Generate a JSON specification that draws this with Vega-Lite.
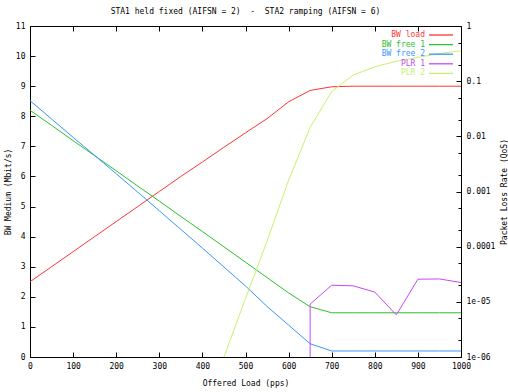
{
  "$schema": "https://vega.github.io/schema/vega-lite/v6.json",
  "width": 431,
  "height": 331,
  "autosize": {"type": "none"},
  "padding": {"left": 30, "top": 26, "right": 47, "bottom": 35},
  "background": "#ffffff",
  "title": {"text": "STA1 held fixed (AIFSN = 2)\u00a0\u00a0-\u00a0\u00a0STA2 ramping (AIFSN = 6)", "font": "DejaVu Sans Mono", "fontSize": 8, "fontWeight": "normal", "color": "#000000", "offset": 6},
  "config": {
    "view": {"stroke": "#000000", "strokeWidth": 1},
    "font": "DejaVu Sans Mono",
    "axis": {"labelFont": "DejaVu Sans Mono", "labelFontSize": 8, "titleFont": "DejaVu Sans Mono", "titleFontSize": 8, "titleFontWeight": "normal", "labelColor": "#000000", "titleColor": "#000000", "tickColor": "#000000", "domain": false, "grid": false}
  },
  "datasets": {
    "bw": [
      {"x": 0, "series": "BW load", "bw": 2.5}, {"x": 50, "series": "BW load", "bw": 3.0}, {"x": 100, "series": "BW load", "bw": 3.5}, {"x": 150, "series": "BW load", "bw": 4.0}, {"x": 200, "series": "BW load", "bw": 4.5}, {"x": 250, "series": "BW load", "bw": 5.0}, {"x": 300, "series": "BW load", "bw": 5.5}, {"x": 350, "series": "BW load", "bw": 6.0}, {"x": 400, "series": "BW load", "bw": 6.48}, {"x": 450, "series": "BW load", "bw": 6.97}, {"x": 500, "series": "BW load", "bw": 7.45}, {"x": 550, "series": "BW load", "bw": 7.92}, {"x": 600, "series": "BW load", "bw": 8.48}, {"x": 650, "series": "BW load", "bw": 8.86}, {"x": 700, "series": "BW load", "bw": 8.98}, {"x": 750, "series": "BW load", "bw": 9.0}, {"x": 800, "series": "BW load", "bw": 9.0}, {"x": 850, "series": "BW load", "bw": 9.0}, {"x": 900, "series": "BW load", "bw": 9.0}, {"x": 950, "series": "BW load", "bw": 9.0}, {"x": 1000, "series": "BW load", "bw": 9.0},
      {"x": 0, "series": "BW free 1", "bw": 8.2}, {"x": 50, "series": "BW free 1", "bw": 7.7}, {"x": 100, "series": "BW free 1", "bw": 7.19}, {"x": 150, "series": "BW free 1", "bw": 6.69}, {"x": 200, "series": "BW free 1", "bw": 6.19}, {"x": 250, "series": "BW free 1", "bw": 5.68}, {"x": 300, "series": "BW free 1", "bw": 5.18}, {"x": 350, "series": "BW free 1", "bw": 4.67}, {"x": 400, "series": "BW free 1", "bw": 4.17}, {"x": 450, "series": "BW free 1", "bw": 3.66}, {"x": 500, "series": "BW free 1", "bw": 3.15}, {"x": 550, "series": "BW free 1", "bw": 2.64}, {"x": 600, "series": "BW free 1", "bw": 2.13}, {"x": 650, "series": "BW free 1", "bw": 1.67}, {"x": 700, "series": "BW free 1", "bw": 1.47}, {"x": 750, "series": "BW free 1", "bw": 1.47}, {"x": 800, "series": "BW free 1", "bw": 1.47}, {"x": 850, "series": "BW free 1", "bw": 1.47}, {"x": 900, "series": "BW free 1", "bw": 1.47}, {"x": 950, "series": "BW free 1", "bw": 1.47}, {"x": 1000, "series": "BW free 1", "bw": 1.47},
      {"x": 0, "series": "BW free 2", "bw": 8.52}, {"x": 50, "series": "BW free 2", "bw": 7.91}, {"x": 100, "series": "BW free 2", "bw": 7.3}, {"x": 150, "series": "BW free 2", "bw": 6.7}, {"x": 200, "series": "BW free 2", "bw": 6.09}, {"x": 250, "series": "BW free 2", "bw": 5.48}, {"x": 300, "series": "BW free 2", "bw": 4.86}, {"x": 350, "series": "BW free 2", "bw": 4.24}, {"x": 400, "series": "BW free 2", "bw": 3.62}, {"x": 450, "series": "BW free 2", "bw": 2.99}, {"x": 500, "series": "BW free 2", "bw": 2.36}, {"x": 550, "series": "BW free 2", "bw": 1.68}, {"x": 600, "series": "BW free 2", "bw": 1.06}, {"x": 650, "series": "BW free 2", "bw": 0.44}, {"x": 700, "series": "BW free 2", "bw": 0.2}, {"x": 750, "series": "BW free 2", "bw": 0.2}, {"x": 800, "series": "BW free 2", "bw": 0.2}, {"x": 850, "series": "BW free 2", "bw": 0.2}, {"x": 900, "series": "BW free 2", "bw": 0.2}, {"x": 950, "series": "BW free 2", "bw": 0.2}, {"x": 1000, "series": "BW free 2", "bw": 0.2}
    ],
    "plr": [
      {"i": 1, "x": 650, "series": "PLR 1", "plr": 1e-6}, {"i": 2, "x": 650, "series": "PLR 1", "plr": 9.1e-6}, {"i": 3, "x": 700, "series": "PLR 1", "plr": 2.0e-5}, {"i": 4, "x": 750, "series": "PLR 1", "plr": 1.95e-5}, {"i": 5, "x": 800, "series": "PLR 1", "plr": 1.5e-5}, {"i": 6, "x": 850, "series": "PLR 1", "plr": 5.8e-6}, {"i": 7, "x": 900, "series": "PLR 1", "plr": 2.57e-5}, {"i": 8, "x": 950, "series": "PLR 1", "plr": 2.6e-5}, {"i": 9, "x": 1000, "series": "PLR 1", "plr": 2.24e-5},
      {"i": 10, "x": 450, "series": "PLR 2", "plr": 1e-6}, {"i": 11, "x": 500, "series": "PLR 2", "plr": 1.15e-5}, {"i": 12, "x": 550, "series": "PLR 2", "plr": 1.26e-4}, {"i": 13, "x": 600, "series": "PLR 2", "plr": 1.6e-3}, {"i": 14, "x": 650, "series": "PLR 2", "plr": 0.0145}, {"i": 15, "x": 700, "series": "PLR 2", "plr": 0.065}, {"i": 16, "x": 750, "series": "PLR 2", "plr": 0.129}, {"i": 17, "x": 800, "series": "PLR 2", "plr": 0.182}, {"i": 18, "x": 850, "series": "PLR 2", "plr": 0.23}, {"i": 19, "x": 900, "series": "PLR 2", "plr": 0.27}, {"i": 20, "x": 950, "series": "PLR 2", "plr": 0.316}, {"i": 21, "x": 1000, "series": "PLR 2", "plr": 0.355}
    ]
  },
  "layer": [
    {
      "data": {"name": "bw"},
      "mark": {"type": "line", "strokeWidth": 1},
      "encoding": {
        "x": {"field": "x", "type": "quantitative", "scale": {"domain": [0, 1000], "nice": false},
          "axis": {"orient": "bottom", "values": [0, 100, 200, 300, 400, 500, 600, 700, 800, 900, 1000], "format": "d", "tickSize": -5, "labelPadding": 10, "labelFlush": false, "labelOverlap": false, "title": "Offered Load (pps)", "titlePadding": 9}},
        "y": {"field": "bw", "type": "quantitative", "scale": {"domain": [0, 11], "nice": false},
          "axis": {"orient": "left", "values": [0, 1, 2, 3, 4, 5, 6, 7, 8, 9, 10, 11], "tickSize": -5, "labelPadding": 10, "labelOverlap": false, "title": "BW Medium (Mbit/s)", "titlePadding": 3}},
        "color": {"field": "series", "type": "nominal",
          "scale": {"domain": ["BW load", "BW free 1", "BW free 2", "PLR 1", "PLR 2"], "range": ["#ff3535", "#2ec02e", "#3a94ff", "#c848f4", "#c8f070"]},
          "legend": {"orient": "none", "legendX": 407, "legendY": 5, "title": null, "symbolType": "M-4,0H4", "symbolSize": 36, "symbolStrokeWidth": 1.3, "labelAlign": "right", "labelOffset": -20, "rowPadding": 1.6, "padding": 0, "labelFont": "DejaVu Sans Mono", "labelFontSize": 8,
            "encode": {"labels": {"update": {"fill": {"scale": "color", "field": "value"}}}}}}
      }
    },
    {
      "data": {"name": "plr"},
      "mark": {"type": "line", "strokeWidth": 1, "clip": true},
      "encoding": {
        "x": {"field": "x", "type": "quantitative", "scale": {"domain": [0, 1000], "nice": false},
          "axis": {"orient": "top", "values": [0, 100, 200, 300, 400, 500, 600, 700, 800, 900, 1000], "tickSize": -5, "labels": false, "title": null}},
        "y": {"field": "plr", "type": "quantitative", "scale": {"type": "log", "domain": [1e-6, 1], "nice": false},
          "axis": {"orient": "right", "values": [1e-6, 2e-6, 5e-6, 1e-5, 2e-5, 5e-5, 1e-4, 2e-4, 5e-4, 1e-3, 2e-3, 5e-3, 0.01, 0.02, 0.05, 0.1, 0.2, 0.5, 1],
            "labelExpr": "abs(log(datum.value)/LN10 - round(log(datum.value)/LN10)) > 0.01 ? '' : (datum.value < 5e-6 ? '1e-06' : (datum.value < 5e-5 ? '1e-05' : toString(datum.value)))",
            "tickSize": {"condition": {"test": "abs(log(datum.value)/LN10 - round(log(datum.value)/LN10)) > 0.01", "value": -3}, "value": -5},
            "labelPadding": 10, "labelOverlap": false, "labelFlush": false, "title": "Packet Loss Rate (QoS)", "titleAngle": 270, "titlePadding": 14}},
        "color": {"field": "series", "type": "nominal"},
        "order": {"field": "i", "type": "quantitative"}
      }
    }
  ],
  "resolve": {"scale": {"y": "independent"}, "axis": {"x": "independent", "y": "independent"}}
}
